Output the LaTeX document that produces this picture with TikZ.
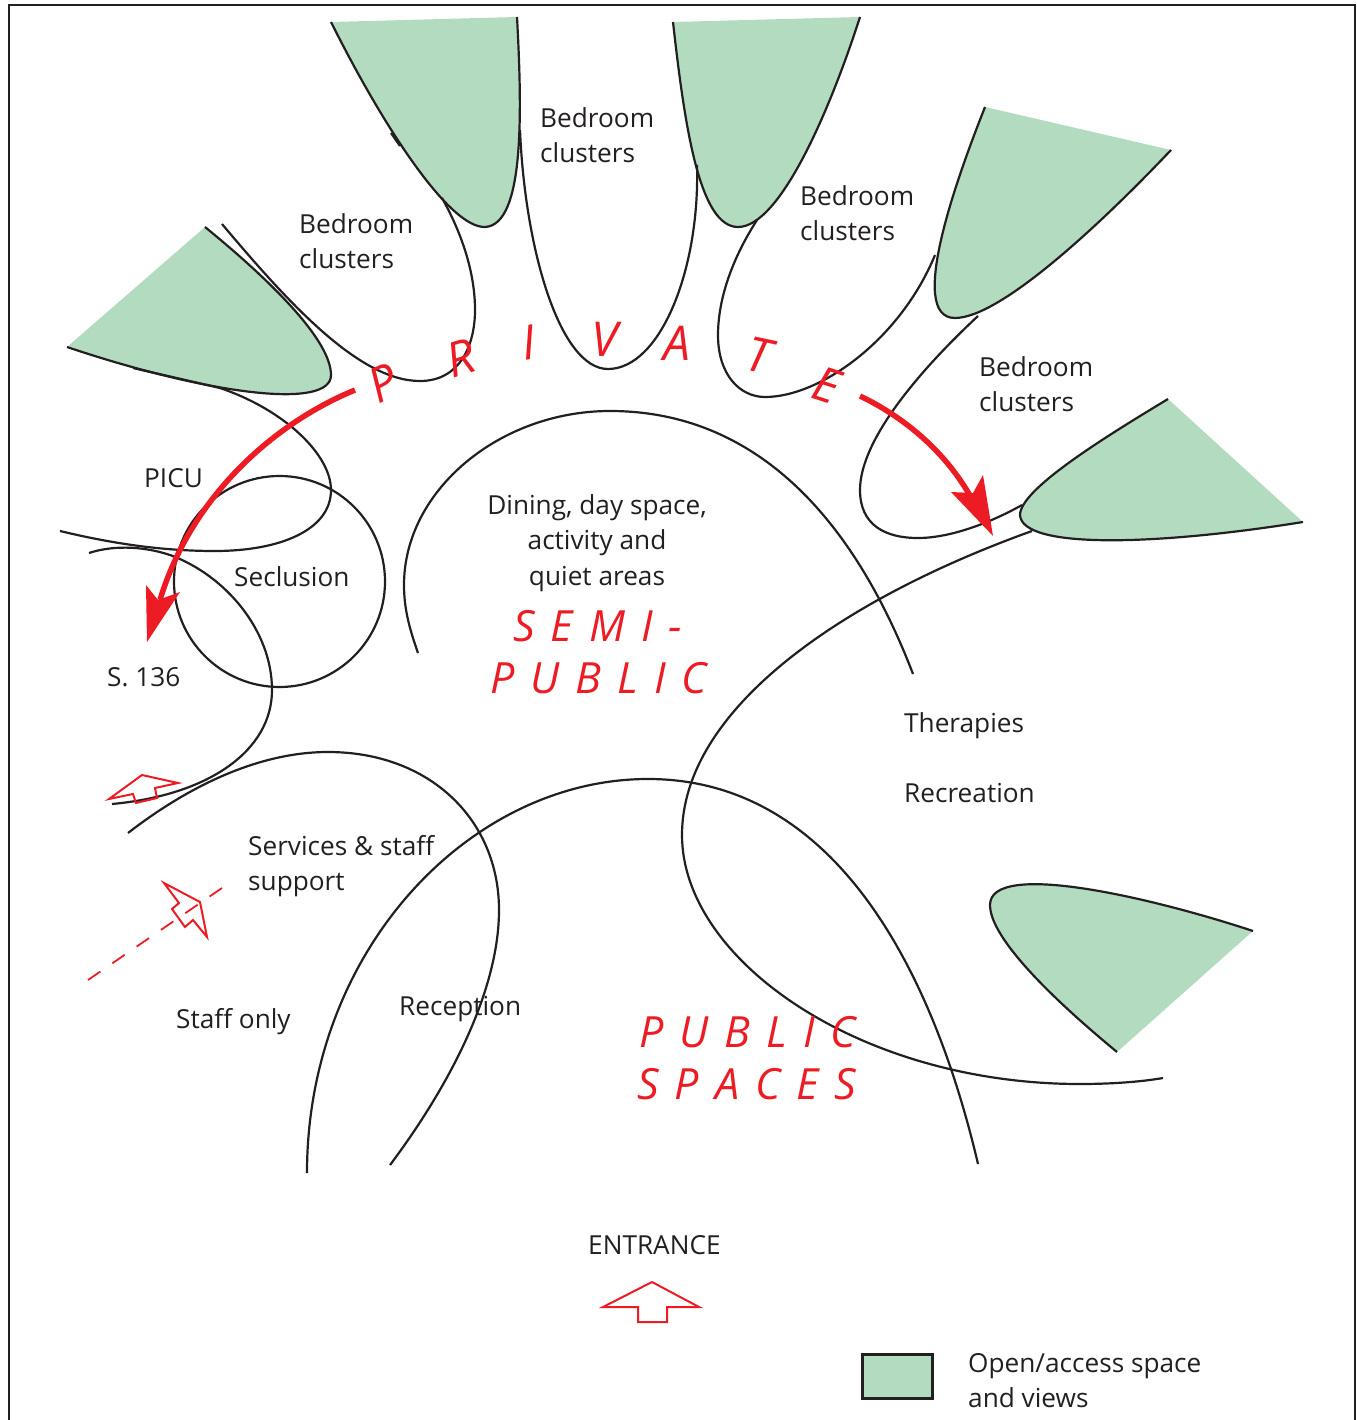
\documentclass[tikz,border=0pt]{standalone}
\usepackage{fontspec}
\setmainfont{Open Sans}
\definecolor{openGreen}{HTML}{B2DBBF}
\definecolor{zoneRed}{HTML}{ED1C24}
\definecolor{inkBlack}{HTML}{231F20}
\newcommand{\zonefont}{\fontsize{43}{52}\selectfont\itshape\spaceskip=16pt\relax}
\tikzset{
  roomline/.style={draw=inkBlack, line width=2.2pt},
  openspace/.style={fill=openGreen, draw=none},
  roomlabel/.style={font=\fontsize{26.2}{35.5}\selectfont, text=inkBlack, align=left, anchor=north west, inner sep=0pt},
  zonelabel/.style={font=\zonefont, text=zoneRed, anchor=base west, inner sep=0pt},
  letterlabel/.style={font=\fontsize{48}{52}\selectfont\itshape, text=zoneRed, inner sep=0pt},
  flowline/.style={draw=zoneRed, line width=5.5pt},
  flowhead/.style={fill=zoneRed, draw=none},
  doorarrow/.style={draw=zoneRed, line width=2pt, fill=white, line join=miter}
}
\begin{document}
\begin{tikzpicture}[x=1pt, y=-1pt]
    \useasboundingbox (0,0) rectangle (1356,1420);
    %frame
    \draw[inkBlack, line width=1.2pt] (9,1420) -- (9,5) -- (1355,5) -- (1355,1420);
    %open spaces
    \fill[openspace] (331,22) .. controls (385,130) and (450,228) .. (485,227) .. controls (525,225) and (522,110) .. (517,17) -- cycle;
    \fill[openspace] (673,22) .. controls (685,130) and (700,227) .. (738,227) .. controls (780,227) and (830,110) .. (860,17) -- cycle;
    \fill[openspace] (985,107) .. controls (960,170) and (905,318) .. (955,318) .. controls (1000,318) and (1100,225) .. (1171,150) -- cycle;
    \fill[openspace] (1168,399) .. controls (1100,440) and (1020,490) .. (1020,515) .. controls (1022,550) and (1160,545) .. (1303,522) -- cycle;
    \fill[openspace] (1253,931) .. controls (1150,897) and (990,860) .. (990,905) .. controls (990,940) and (1060,1005) .. (1117,1052) -- cycle;
    \fill[openspace] (205,227) .. controls (270,280) and (331,340) .. (331,375) .. controls (331,410) and (210,395) .. (67,347) -- cycle;
    %room lines
    \draw[roomline] (331,22) .. controls (385,130) and (450,228) .. (485,227) .. controls (525,225) and (522,110) .. (517,17);
    \draw[roomline] (673,22) .. controls (685,130) and (700,227) .. (738,227) .. controls (780,227) and (830,110) .. (860,17);
    \draw[roomline] (985,107) .. controls (960,170) and (905,318) .. (955,318) .. controls (1000,318) and (1100,225) .. (1171,150);
    \draw[roomline] (1168,399) .. controls (1100,440) and (1020,490) .. (1020,515) .. controls (1022,550) and (1160,545) .. (1303,522);
    \draw[roomline] (1253,931) .. controls (1150,897) and (990,860) .. (990,905) .. controls (990,940) and (1060,1005) .. (1117,1052);
    \draw[roomline] (205,227) .. controls (270,280) and (331,340) .. (331,375) .. controls (331,410) and (210,395) .. (67,347);
    \draw[roomline] (222,224) .. controls (290,305) and (360,381) .. (420,381) .. controls (460,381) and (475,345) .. (475,310) .. controls (475,270) and (460,230) .. (442,198);
    \draw[roomline] (391,133) -- (400,146);
    \draw[roomline] (520,130) .. controls (525,250) and (560,369) .. (608,369) .. controls (660,369) and (700,270) .. (697,165);
    \draw[roomline] (757,220) .. controls (725,270) and (718,310) .. (718,335) .. controls (718,375) and (740,397) .. (765,397) .. controls (820,397) and (900,340) .. (935,255);
    \draw[roomline] (978,316) .. controls (920,370) and (860,440) .. (860,490) .. controls (860,525) and (885,538) .. (918,538) .. controls (950,538) and (990,523) .. (1022,505);
    \draw[roomline] (1032,531) .. controls (840,600) and (682,710) .. (682,835) .. controls (682,960) and (860,1084) .. (1080,1084) .. controls (1110,1084) and (1140,1082) .. (1163,1078);
    \draw[roomline] (418,653) .. controls (410,630) and (404,610) .. (404,585) .. controls (404,490) and (500,411) .. (610,411) .. controls (750,411) and (850,510) .. (913,674);
    \draw[roomline] (307,1173) .. controls (307,950) and (470,779) .. (648,779) .. controls (830,779) and (930,960) .. (978,1164);
    \draw[roomline] (128,833) .. controls (190,785) and (260,752) .. (328,752) .. controls (430,752) and (499,820) .. (499,910) .. controls (499,990) and (450,1085) .. (390,1165);
    \draw[roomline] (133,368) -- (220,388) .. controls (285,410) and (331,455) .. (331,490) .. controls (331,530) and (280,551) .. (215,551) .. controls (160,551) and (110,543) .. (60,531);
    \draw[roomline] (279.5,581.5) circle[radius=105.5];
    \draw[roomline] (89,553) .. controls (110,546) and (140,545) .. (170,555) .. controls (225,575) and (272,630) .. (272,690) .. controls (272,750) and (210,795) .. (112,804);
    %flow arrows
    \draw[flowline] (355,390) .. controls (270,425) and (190,500) .. (160,600);
    \fill[flowhead] (147,642) -- (146,585) -- (158,600) -- (180,592) -- cycle;
    \draw[flowline] (860,396) .. controls (910,420) and (955,460) .. (980,515);
    \fill[flowhead] (993,536) -- (983,475) -- (973,493) -- (951,492) -- cycle;
    %door arrows
    \draw[doorarrow] (652,1282) -- (699,1307) -- (667,1307) -- (667,1322) -- (638,1322) -- (638,1307) -- (603,1307) -- cycle;
    \draw[doorarrow, fill=none] (109,799) -- (142,775) -- (178,783) -- (155,788) -- (157,798) -- (136,803) -- (133,794) -- cycle;
    \draw[doorarrow, fill=none] (164,883) -- (200,902) -- (207,937) -- (193,920) -- (185,927) -- (172,909) -- (179,903) -- cycle;
    \draw[zoneRed, line width=1.8pt, dash pattern=on 15pt off 14.5pt] (88,980) -- (222,888);
    %room labels
    \node[roomlabel] (bedroomA) at (299,213) {Bedroom\\clusters};
    \node[roomlabel] (bedroomB) at (540,107) {Bedroom\\clusters};
    \node[roomlabel] (bedroomC) at (800,185) {Bedroom\\clusters};
    \node[roomlabel] (bedroomD) at (979,356) {Bedroom\\clusters};
    \node[roomlabel] (picu) at (144,468) {PICU};
    \node[roomlabel] (seclusion) at (234,566) {Seclusion};
    \node[roomlabel] (sec136) at (107,667) {S. 136};
    \node[roomlabel, align=center, anchor=north] (dining) at (597,494) {Dining, day space,\\activity and\\quiet areas};
    \node[roomlabel] (therapies) at (904,712) {Therapies};
    \node[roomlabel] (recreation) at (904,783) {Recreation};
    \node[roomlabel] (services) at (248,835) {Services \& staff\\support};
    \node[roomlabel] (staffonly) at (176,1008) {Staff only};
    \node[roomlabel] (reception) at (399,996) {Reception};
    \node[roomlabel] (entrance) at (588,1235) {ENTRANCE};
    %zone labels
    \node[letterlabel, rotate=26] (letterP) at (383,383) {P};
    \node[letterlabel, rotate=17] (letterR) at (461,358) {R};
    \node[letterlabel, rotate=8] (letterI) at (529,343) {I};
    \node[letterlabel] (letterV) at (605,339) {V};
    \node[letterlabel] (letterA) at (677,343) {A};
    \node[letterlabel, rotate=-12] (letterT) at (759,355) {T};
    \node[letterlabel, rotate=-18] (letterE) at (827,385) {E};
    \node[zonelabel] (semiA) at (513,641) {S E M I -};
    \node[zonelabel] (semiB) at (490,693) {P U B L I C};
    \node[zonelabel] (publicA) at (639,1047) {P U B L I C};
    \node[zonelabel] (publicB) at (637,1099) {S P A C E S};
    %legend
    \draw[fill=openGreen, draw=inkBlack, line width=3pt] (862,1354) rectangle (932,1398);
    \node[roomlabel] (legend) at (968,1353) {Open/access space\\and views};
\end{tikzpicture}
\end{document}
